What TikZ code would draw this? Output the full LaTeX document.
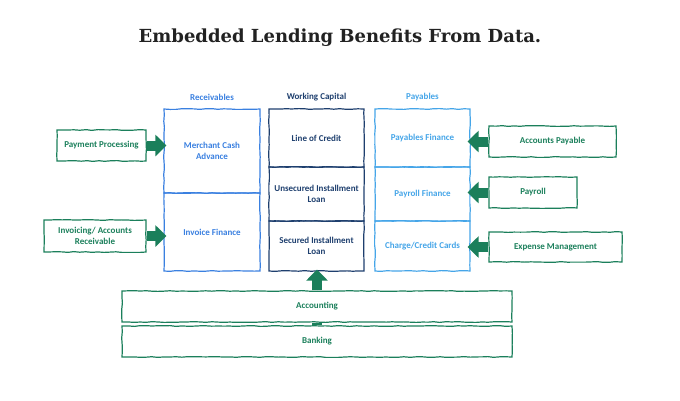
\documentclass[tikz,border=0pt]{standalone}
\usepackage{fontspec}
\setmainfont{Carlito}
\newfontfamily\titlefont{DejaVu Serif}
\usetikzlibrary{arrows.meta,decorations.pathmorphing}
\definecolor{grn}{HTML}{1B7F5B}
\definecolor{recblue}{HTML}{3A80E0}
\definecolor{wcblue}{HTML}{1E3F6E}
\definecolor{payblue}{HTML}{45A5E8}
\definecolor{titlegray}{HTML}{222222}
\begin{document}
\begin{tikzpicture}[x=1pt,y=-1pt,
  sketch/.style={decorate,decoration={random steps,segment length=6pt,amplitude=0.4pt}},
  box/.style={draw, line width=1.2pt, sketch, inner sep=0pt, align=center,
    font=\bfseries\fontsize{9}{11}\selectfont},
  rec/.style={box, draw=recblue, text=recblue},
  wc/.style={box, draw=wcblue, text=wcblue},
  pay/.style={box, draw=payblue, text=payblue},
  src/.style={box, draw=grn, text=grn},
  hdr/.style={font=\bfseries\fontsize{9}{11}\selectfont, inner sep=0pt},
  blockarrow/.style={draw=grn, fill=grn, line width=10pt,
    -{Triangle[length=11pt 0 1,width=21pt 0 1]}},
  shaft/.style={draw=grn, line width=10pt}
]
\useasboundingbox (0,0) rectangle (680,400);

\node[font=\titlefont\bfseries\fontsize{18}{22}\selectfont, text=titlegray] (title) at (340,38) {Embedded Lending Benefits From Data.};

% column headers
\node[hdr, text=recblue] (hrec) at (212,97) {Receivables};
\node[hdr, text=wcblue] (hwc) at (316.5,97) {Working Capital};
\node[hdr, text=payblue] (hpay) at (422.5,97) {Payables};

% receivables
\node[rec, minimum width=96pt, minimum height=84pt] (rec1) at (212,151) {Merchant Cash\\Advance};
\node[rec, minimum width=96pt, minimum height=78pt] (rec2) at (212,232) {Invoice Finance};

% working capital
\node[wc, minimum width=95pt, minimum height=58pt] (wc1) at (316.5,138) {Line of Credit};
\node[wc, minimum width=95pt, minimum height=54pt] (wc2) at (316.5,194) {Unsecured Installment\\Loan};
\node[wc, minimum width=95pt, minimum height=50pt] (wc3) at (316.5,246) {Secured Installment\\Loan};

% payables
\node[pay, minimum width=95pt, minimum height=58pt] (pay1) at (422.5,138) {Payables Finance};
\node[pay, minimum width=95pt, minimum height=54pt] (pay2) at (422.5,194) {Payroll Finance};
\node[pay, minimum width=95pt, minimum height=50pt] (pay3) at (422.5,246) {Charge/Credit Cards};

% sources
\node[src, minimum width=89pt, minimum height=31pt] (pp) at (101.5,145.5) {Payment Processing};
\node[src, minimum width=102pt, minimum height=32pt] (inv) at (95,236) {Invoicing/ Accounts\\Receivable};
\node[src, minimum width=127pt, minimum height=31pt] (ap) at (552.5,141.5) {Accounts Payable};
\node[src, minimum width=88pt, minimum height=31pt] (payroll) at (533,192.5) {Payroll};
\node[src, minimum width=133pt, minimum height=30pt] (exp) at (555.5,247) {Expense Management};
\node[src, minimum width=390pt, minimum height=31pt] (acc) at (317,306.5) {Accounting};
\node[src, minimum width=390pt, minimum height=31pt] (bank) at (317,341.5) {Banking};

% arrows
\draw[blockarrow, shorten >=-3pt] (pp.east) -- (pp.east -| rec1.west);
\draw[blockarrow, shorten >=-3pt] (inv.east) -- (inv.east -| rec2.west);
\draw[blockarrow, shorten >=-3pt] (ap.west) -- (ap.west -| pay1.east);
\draw[blockarrow, shorten >=-3pt] (payroll.west) -- (payroll.west -| pay2.east);
\draw[blockarrow, shorten >=-3pt] (exp.west) -- (exp.west -| pay3.east);
\draw[blockarrow, shorten >=-2pt] (acc.north) -- (acc.north |- wc3.south);
\draw[shaft] (bank.north) -- (acc.south);
\end{tikzpicture}
\end{document}
